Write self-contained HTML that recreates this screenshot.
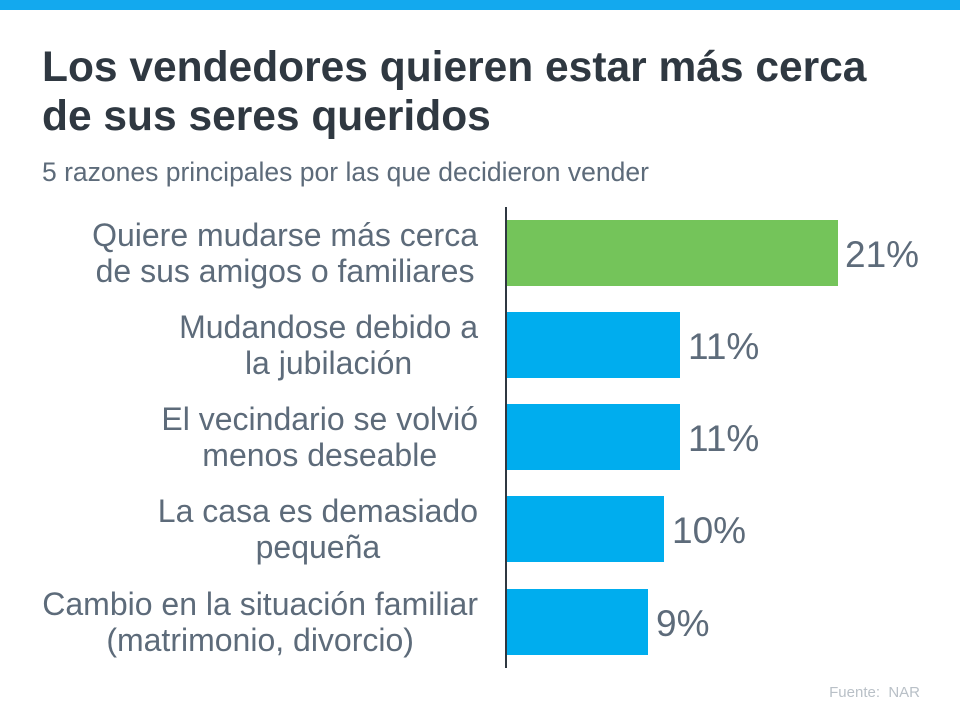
<!DOCTYPE html>
<html><head><meta charset="utf-8"><style>
body{margin:0;width:960px;height:720px;background:#fff;position:relative;overflow:hidden;font-family:"Liberation Sans",sans-serif}
.top{position:absolute;left:0;top:0;width:960px;height:10px;background:#13a9ee}
.t{position:absolute;left:42px;top:43px;font-size:42.5px;font-weight:bold;color:#2f3841;line-height:49px;white-space:nowrap}
.s{position:absolute;left:42px;top:157px;font-size:26.5px;color:#5d6b7a;white-space:nowrap}
.ax{position:absolute;left:505px;top:207px;width:2px;height:461px;background:#2f3841}
.b{position:absolute;left:507px;height:66px}
.l{position:absolute;right:482px;width:480px;text-align:right;font-size:32px;line-height:36px;color:#5d6b7a}
.l span{display:inline-block;text-align:center;white-space:nowrap}
.v{position:absolute;font-size:37px;color:#5d6b7a;line-height:40px}
.f{position:absolute;right:40px;top:684px;font-size:15px;color:#b9c0c7}
</style></head><body>
<div class="top"></div>
<div class="t">Los vendedores quieren estar más cerca<br>de sus seres queridos</div>
<div class="s">5 razones principales por las que decidieron vender</div>
<div class="ax"></div>
<div class="b" style="top:220px;width:331px;background:#74c45a"></div>
<div class="b" style="top:312px;width:173px;background:#00adee"></div>
<div class="b" style="top:404px;width:173px;background:#00adee"></div>
<div class="b" style="top:496px;width:157px;background:#00adee"></div>
<div class="b" style="top:589px;width:141px;background:#00adee"></div>
<div class="l" style="top:217px"><span>Quiere mudarse más cerca<br>de sus amigos o familiares</span></div>
<div class="l" style="top:309px"><span>Mudandose debido a<br>la jubilación</span></div>
<div class="l" style="top:401px"><span>El vecindario se volvió<br>menos deseable</span></div>
<div class="l" style="top:493px"><span>La casa es demasiado<br>pequeña</span></div>
<div class="l" style="top:586px"><span>Cambio en la situación familiar<br>(matrimonio, divorcio)</span></div>
<div class="v" style="left:845px;top:235px">21%</div>
<div class="v" style="left:688px;top:327px">11%</div>
<div class="v" style="left:688px;top:419px">11%</div>
<div class="v" style="left:672px;top:511px">10%</div>
<div class="v" style="left:656px;top:604px">9%</div>
<div class="f">Fuente:&nbsp; NAR</div>
</body></html>
